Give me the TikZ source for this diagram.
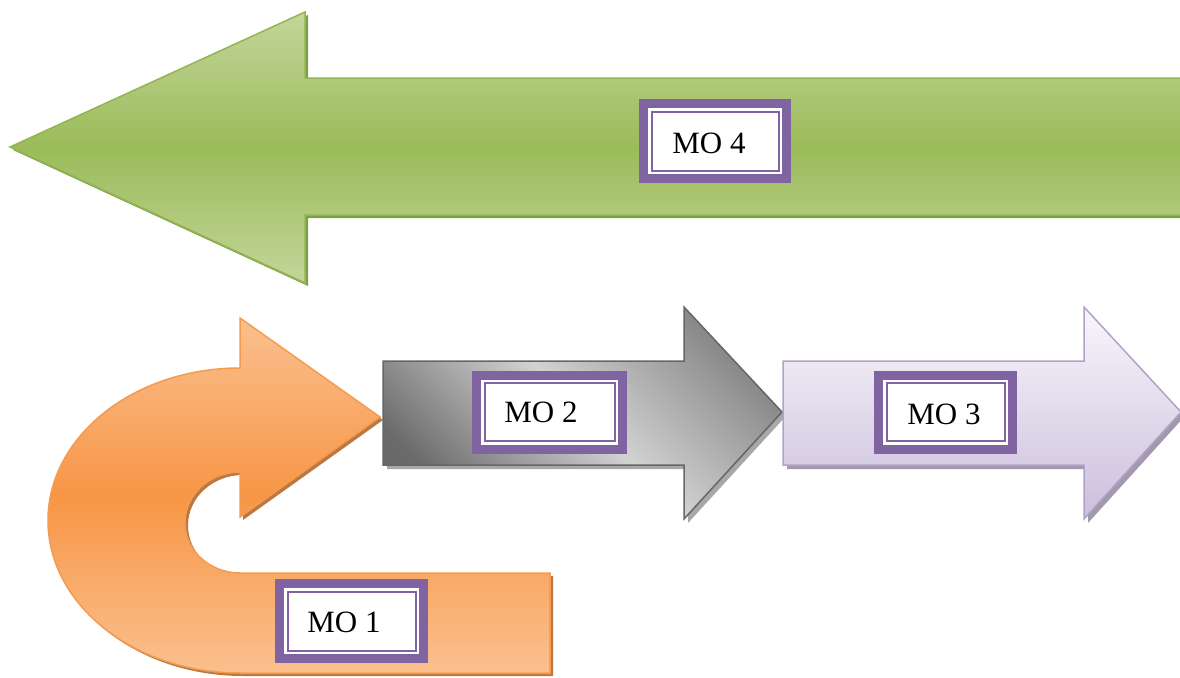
\documentclass[tikz,border=0pt]{standalone}
\usepackage{fontspec}
\setmainfont{Liberation Serif}
\definecolor{glight}{HTML}{C3D69B}
\definecolor{gmid}{HTML}{9BBB59}
\definecolor{gedge}{HTML}{93B551}
\definecolor{gshadow}{HTML}{7F9E48}
\definecolor{olight}{HTML}{FAC08F}
\definecolor{omid}{HTML}{F79646}
\definecolor{oedge}{HTML}{F59A4E}
\definecolor{oshadow}{HTML}{BB7840}
\definecolor{kdark}{HTML}{6A6A6A}
\definecolor{kdark2}{HTML}{858585}
\definecolor{klight}{HTML}{D2D2D2}
\definecolor{kedge}{HTML}{666666}
\definecolor{kshadow}{HTML}{A8A8A8}
\definecolor{ptop}{HTML}{F8F6FB}
\definecolor{pbot}{HTML}{CBBFDC}
\definecolor{pedge}{HTML}{B3A2C7}
\definecolor{pshadow}{HTML}{A399AE}
\definecolor{mopurple}{HTML}{8064A2}
\tikzset{
  motext/.style={font=\fontsize{31}{36}\selectfont, inner sep=0pt},
  mobox/.style={draw=mopurple, line width=9pt, fill=white, inner sep=0pt, outer sep=0pt,
    path picture={\draw[mopurple, line width=2pt]
      ([xshift=8pt,yshift=-8pt]path picture bounding box.north west) rectangle
      ([xshift=-8pt,yshift=8pt]path picture bounding box.south east);}},
  shadowshape/.style={line width=1pt, line join=miter},
  arrowshape/.style={line width=1.5pt, line join=miter},
}
\begin{document}
\begin{tikzpicture}[x=1pt,y=-1pt]
\useasboundingbox (0,0) rectangle (1180,677);
\clip (0,0) rectangle (1180,677);
% ---------- green arrow (MO 4) ----------
\fill[gshadow, shift={(3,3)}] (10,147) -- (305,12) -- (305,78) -- (1190,78) -- (1190,215) -- (305,215) -- (305,283) -- cycle;
\draw[arrowshape, draw=gedge, top color=glight, bottom color=glight, middle color=gmid]
  (10,147) -- (305,12) -- (305,78) -- (1190,78) -- (1190,215) -- (305,215) -- (305,283) -- cycle;
% ---------- orange U-turn arrow (MO 1) ----------
\fill[oshadow, shift={(3,3)}] (380,417) -- (240,318) -- (240,368)
  arc[start angle=-90, end angle=-270, x radius=192, y radius=152.5]
  -- (550,673) -- (550,573) -- (240,573)
  arc[start angle=90, end angle=270, x radius=55, y radius=50.5]
  -- (240,517) -- cycle;
\draw[arrowshape, draw=oedge, top color=olight, bottom color=olight, middle color=omid]
  (380,417) -- (240,318) -- (240,368)
  arc[start angle=-90, end angle=-270, x radius=192, y radius=152.5]
  -- (550,673) -- (550,573) -- (240,573)
  arc[start angle=90, end angle=270, x radius=55, y radius=50.5]
  -- (240,517) -- cycle;
% ---------- gray arrow (MO 2) ----------
\fill[kshadow, shift={(4,4)}] (383,361) -- (684,361) -- (684,307) -- (782,412) -- (684,519) -- (684,465) -- (383,465) -- cycle;
\draw[arrowshape, draw=kedge, shading=axis, top color=kdark2, bottom color=kdark, middle color=klight, shading angle=-45]
  (383,361) -- (684,361) -- (684,307) -- (782,412) -- (684,519) -- (684,465) -- (383,465) -- cycle;
% ---------- lavender arrow (MO 3) ----------
\fill[pshadow, shift={(4,4)}] (783,361) -- (1084,361) -- (1084,307) -- (1181,412) -- (1084,519) -- (1084,465) -- (783,465) -- cycle;
\draw[arrowshape, draw=pedge, top color=ptop, bottom color=pbot]
  (783,361) -- (1084,361) -- (1084,307) -- (1181,412) -- (1084,519) -- (1084,465) -- (783,465) -- cycle;
% ---------- label boxes ----------
\node[mobox, minimum width=143pt, minimum height=75pt] (b4) at (715,141) {};
\node[motext] (t4) at (709,143) {MO 4};
\node[mobox, minimum width=146pt, minimum height=74pt] (b2) at (549.5,412) {};
\node[motext] (t2) at (541,412) {MO 2};
\node[mobox, minimum width=134pt, minimum height=74pt] (b3) at (945.5,412) {};
\node[motext] (t3) at (944,414) {MO 3};
\node[mobox, minimum width=144pt, minimum height=75pt] (b1) at (351.5,621) {};
\node[motext] (t1) at (344,622) {MO 1};
\end{tikzpicture}
\end{document}
